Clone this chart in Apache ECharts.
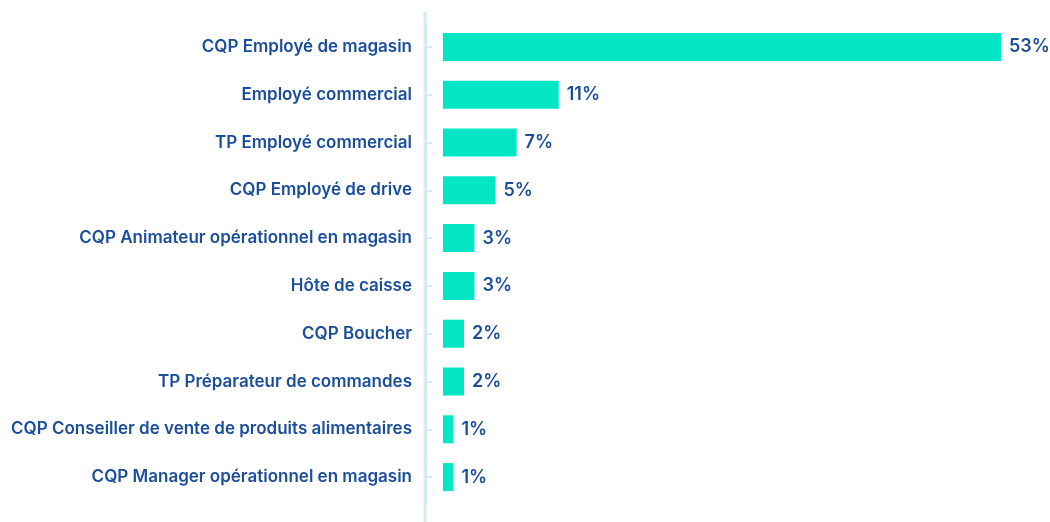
<!DOCTYPE html>
<html>
<head>
<meta charset="utf-8">
<script src="https://cdn.jsdelivr.net/npm/echarts@6/dist/echarts.min.js"></script>
<style>
  html, body { margin: 0; padding: 0; background: #fff; }
  #chart { width: 1050px; height: 522px; }
</style>
</head>
<body>
<div id="chart"></div>
<script>
// formations (du haut vers le bas)
const categories = [
  'CQP Employé de magasin',
  'Employé commercial',
  'TP Employé commercial',
  'CQP Employé de drive',
  'CQP Animateur opérationnel en magasin',
  'Hôte de caisse',
  'CQP Boucher',
  'TP Préparateur de commandes',
  'CQP Conseiller de vente de produits alimentaires',
  'CQP Manager opérationnel en magasin'
];
// part en %
const shares = [53, 11, 7, 5, 3, 3, 2, 2, 1, 1];

const textColor = '#1b4e9b';
const barColor = '#02e6c6';
const axisColor = '#d3eaf7';

const chart = echarts.init(document.getElementById('chart'));

chart.setOption({
  animation: false,
  grid: {
    left: 425,
    right: 49,
    top: 23,
    bottom: 21
  },
  xAxis: {
    type: 'value',
    min: -1.7, // petit espace entre l'axe et le début des barres
    max: 53,
    show: false
  },
  yAxis: {
    type: 'category',
    data: categories,
    inverse: true,
    axisLine: { show: true, onZero: false, lineStyle: { color: axisColor, width: 3 } },
    axisTick: {
      show: true,
      inside: true,
      length: 7,
      alignWithLabel: true,
      lineStyle: { color: axisColor, width: 2 }
    },
    axisLabel: {
      color: textColor,
      fontFamily: 'Inter',
      fontWeight: 600,
      fontSize: 17,
      margin: 13
    },
    splitLine: { show: false }
  },
  graphic: [{
    // prolongement de la ligne d'axe au-delà de la grille
    type: 'line',
    shape: { x1: 425, y1: 12, x2: 425, y2: 522 },
    style: { stroke: axisColor, lineWidth: 3 },
    silent: true
  }],
  series: [{
    type: 'bar',
    data: shares,
    barWidth: 28,
    itemStyle: { color: barColor },
    label: {
      show: true,
      position: 'right',
      distance: 8,
      formatter: p => p.value + '%',
      color: textColor,
      fontFamily: 'Inter',
      fontWeight: 600,
      fontSize: 18
    }
  }]
});
</script>
</body>
</html>
